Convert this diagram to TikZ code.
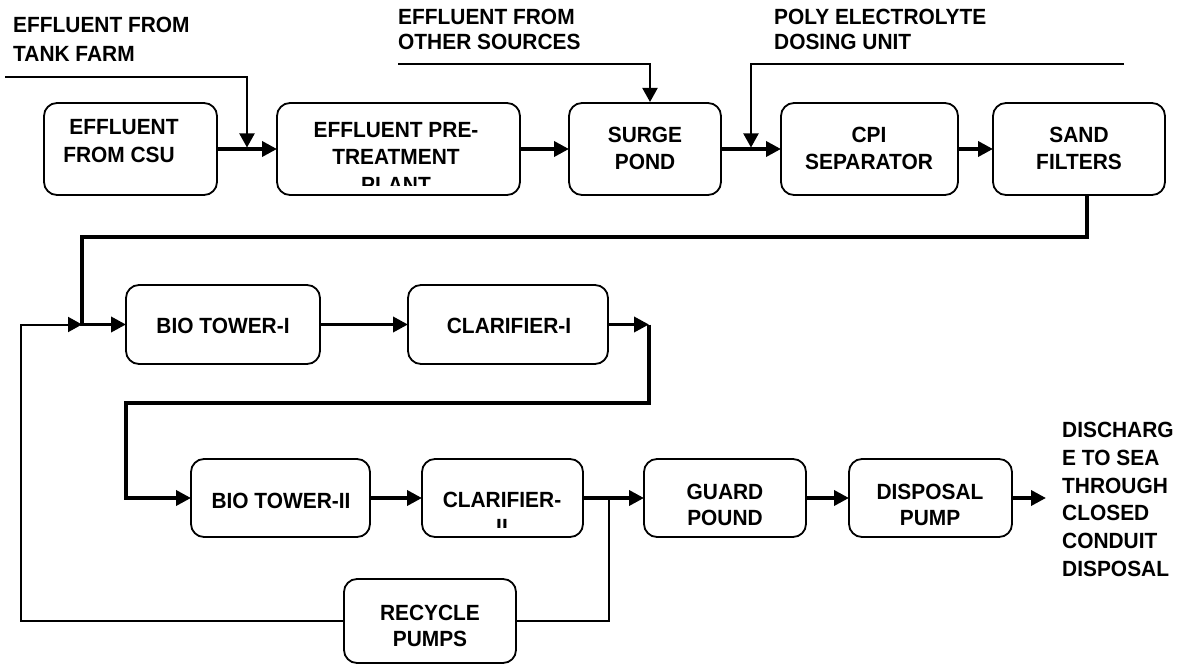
\documentclass[tikz,border=0pt]{standalone}
\usepackage{fontspec}
\setmainfont{Liberation Sans}[FakeStretch=0.95]
\usetikzlibrary{arrows.meta}
\tikzset{
  box/.style={draw, line width=1.8pt, rounded corners=13pt, inner sep=0pt, outer sep=0pt},
  txt/.style={inner sep=0pt, text height=16pt, text depth=0pt, font=\fontsize{22}{27}\selectfont\bfseries},
  ltxt/.style={txt, anchor=west},
  flow/.style={line width=3.6pt, -{Triangle[length=15pt,width=15pt]}},
  flowline/.style={line width=3.6pt},
  feed/.style={line width=2pt, -{Triangle[length=14pt,width=15pt]}},
  feedline/.style={line width=2pt},
}
\begin{document}
\begin{tikzpicture}[x=1pt,y=-1pt]
\fill[white] (0,0) rectangle (1184,666);
\useasboundingbox (0,0) rectangle (1184,666);

% ---- row 1 boxes
\node[box, minimum width=173pt, minimum height=92pt] (csu) at (130.5,149) {};
\node[box, minimum width=243pt, minimum height=92pt] (pre) at (398.5,149) {};
\node[box, minimum width=152pt, minimum height=92pt] (surge) at (645,149) {};
\node[box, minimum width=177pt, minimum height=92pt] (cpi) at (869.5,149) {};
\node[box, minimum width=172pt, minimum height=92pt] (sand) at (1079,149) {};
% ---- row 2
\node[box, minimum width=194pt, minimum height=79pt] (bt1) at (223,324.5) {};
\node[box, minimum width=200pt, minimum height=79pt] (cl1) at (508,324.5) {};
% ---- row 3
\node[box, minimum width=179pt, minimum height=78pt] (bt2) at (280.5,498) {};
\node[box, minimum width=161pt, minimum height=78pt] (cl2) at (502.5,498) {};
\node[box, minimum width=162pt, minimum height=78pt] (gp) at (725,498) {};
\node[box, minimum width=163pt, minimum height=78pt] (dp) at (930.5,498) {};
% ---- row 4
\node[box, minimum width=172pt, minimum height=84pt] (rp) at (430,621) {};

% ---- box texts
\node[txt] (csut1) at (124,127) {EFFLUENT};
\node[txt] (csut2) at (119,155) {FROM CSU};
\node[txt] (pret1) at (396,130) {EFFLUENT PRE-};
\node[txt] (pret2) at (396,157) {TREATMENT};
\begin{scope}
  \clip (279,105) rectangle (518,185.5);
  \node[txt] (pret3) at (396,184.5) {PLANT};
\end{scope}
\node[txt] (surget1) at (645,135) {SURGE};
\node[txt] (surget2) at (645,162) {POND};
\node[txt] (cpit1) at (869,135) {CPI};
\node[txt] (cpit2) at (869,162) {SEPARATOR};
\node[txt] (sandt1) at (1079,135) {SAND};
\node[txt] (sandt2) at (1079,162) {FILTERS};
\node[txt] (bt1t) at (223,325) {BIO TOWER-I};
\node[txt] (cl1t) at (509,325) {CLARIFIER-I};
\node[txt] (bt2t) at (281,500) {BIO TOWER-II};
\node[txt] (cl2t1) at (502,499) {CLARIFIER-};
\begin{scope}
  \clip (424,461) rectangle (581,527);
  \node[txt] (cl2t2) at (502,526) {II};
\end{scope}
\node[txt] (gpt1) at (725,491) {GUARD};
\node[txt] (gpt2) at (725,517) {POUND};
\node[txt] (dpt1) at (930,491) {DISPOSAL};
\node[txt] (dpt2) at (930,517) {PUMP};
\node[txt] (rpt1) at (430,612) {RECYCLE};
\node[txt] (rpt2) at (430,638) {PUMPS};

% ---- free labels
\node[ltxt] (tf1) at (13,25) {EFFLUENT FROM};
\node[ltxt] (tf2) at (13,54) {TANK FARM};
\node[ltxt] (os1) at (398,17) {EFFLUENT FROM};
\node[ltxt] (os2) at (398,42) {OTHER SOURCES};
\node[ltxt] (pe1) at (774,17) {POLY ELECTROLYTE};
\node[ltxt] (pe2) at (774,42) {DOSING UNIT};
\node[ltxt] (dc1) at (1062,429) {DISCHARG};
\node[ltxt] (dc2) at (1062,457) {E TO SEA};
\node[ltxt] (dc3) at (1062,485) {THROUGH};
\node[ltxt] (dc4) at (1062,512) {CLOSED};
\node[ltxt] (dc5) at (1062,540) {CONDUIT};
\node[ltxt] (dc6) at (1062,568) {DISPOSAL};

% ---- coordinates
\coordinate (tfs) at (5,77);
\coordinate (tfj) at (247,147.5);
\coordinate (oss) at (398,64);
\coordinate (osj) at (650,102);
\coordinate (pes) at (1124,64);
\coordinate (pej) at (751,147.5);
\coordinate (s1) at (1087,195);
\coordinate (j1) at (82,237);
\coordinate (j2) at (82,324.5);
\coordinate (c1a) at (649,324.5);
\coordinate (c1b) at (126,403);
\coordinate (rj) at (609,498);
\coordinate (rc) at (21,621);
\coordinate (dis) at (1046,498);

% ---- connectors row 1
\draw[flow] (csu.east) -- (pre.west);
\draw[feed] (tfs) -| (tfj);
\draw[flow] (pre.east) -- (surge.west);
\draw[feed] (oss) -| (osj);
\draw[flow] (surge.east) -- (cpi.west);
\draw[feed] (pes) -| (pej);
\draw[flow] (cpi.east) -- (sand.west);
% ---- to row 2
\draw[flow] (s1) |- (j1) |- (bt1.west);
\draw[flow] (bt1.east) -- (cl1.west);
\draw[flow] (cl1.east) -- (c1a);
% ---- to row 3
\draw[flow] (c1a) |- (c1b) |- (bt2.west);
\draw[flow] (bt2.east) -- (cl2.west);
\draw[flow] (cl2.east) -- (gp.west);
\draw[flow] (gp.east) -- (dp.west);
\draw[flow] (dp.east) -- (dis);
% ---- recycle
\draw[feedline] (rj) |- (rp.east);
\draw[feed] (rp.west) -- (rc) |- (j2);
\end{tikzpicture}
\end{document}
